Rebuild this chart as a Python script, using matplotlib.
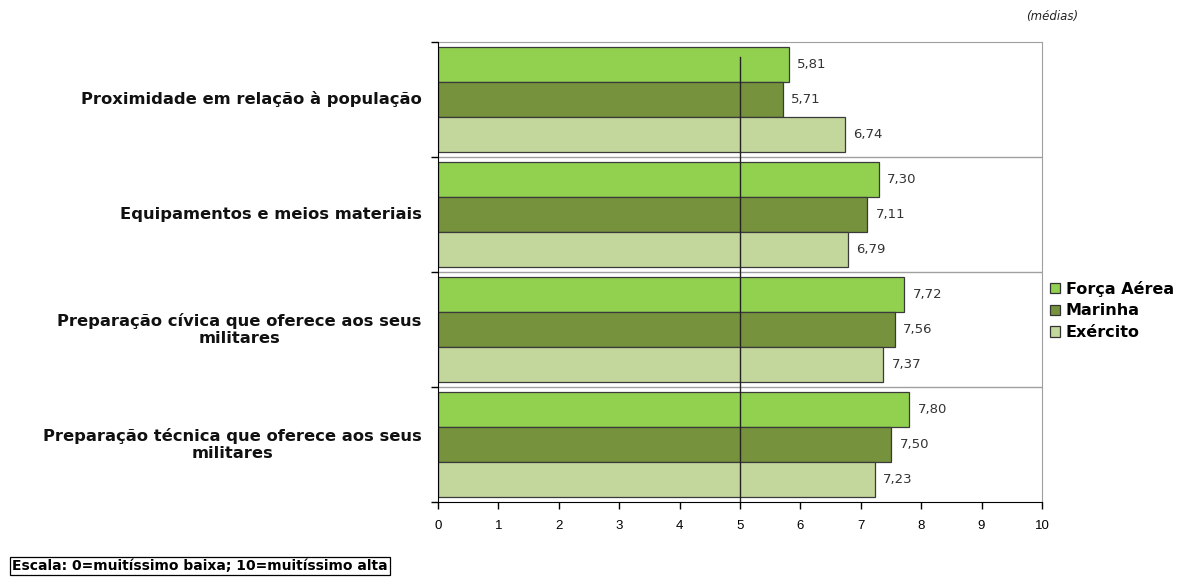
import numpy as np
import matplotlib
matplotlib.use("Agg")
import matplotlib.pyplot as plt

categories = [
    "Proximidade em relação à população",
    "Equipamentos e meios materiais",
    "Preparação cívica que oferece aos seus\nmilitares",
    "Preparação técnica que oferece aos seus\nmilitares",
]
series_names = ["Força Aérea", "Marinha", "Exército"]
forca_aerea = [5.81, 7.30, 7.72, 7.80]
marinha = [5.71, 7.11, 7.56, 7.50]
exercito = [6.74, 6.79, 7.37, 7.23]
x_ticks = list(range(0, 11))

colors = ["#92D050", "#76923C", "#C3D69B"]
wide = ["DejaVu Sans"]
narrow = ["Liberation Sans Narrow", "Liberation Sans", "DejaVu Sans"]

fig = plt.figure(figsize=(11.84, 5.79), dpi=100)
ax = fig.add_axes([0.370, 0.1330, 0.510, 0.7945])

n = len(categories)
bar_h = 0.305
values = [forca_aerea, marinha, exercito]
for i, (name, vals, col) in enumerate(zip(series_names, values, colors)):
    y = np.arange(n) + (i - 1) * bar_h
    bars = ax.barh(y, vals, height=bar_h, color=col, edgecolor="#3a3a3a",
                   linewidth=0.9, label=name, zorder=2)
    for b, v in zip(bars, vals):
        ax.text(v + 0.14, b.get_y() + b.get_height() / 2,
                f"{v:.2f}".replace(".", ","), va="center", ha="left",
                fontsize=9.5, color="#333333", family=wide)

ax.set_ylim(n - 0.5, -0.5)
ax.set_xlim(0, 10)

# linhas entre grupos
for k in range(1, n):
    ax.axhline(k - 0.5, color="#a0a0a0", linewidth=1, zorder=1)

ax.axvline(5, ymin=0, ymax=0.968, color="#222222", linewidth=1, zorder=3)

ax.set_yticks(np.arange(n + 1) - 0.5)
ax.set_yticklabels([])
ax.tick_params(axis="y", length=5, width=1, direction="out")
for k, cat in enumerate(categories):
    ax.text(-0.27, k, cat, ha="right", va="center", multialignment="center",
            fontsize=11.8, fontweight="bold", color="#111111", family=wide,
            linespacing=1.1)

ax.set_xticks(x_ticks)
ax.set_xticklabels([str(t) for t in x_ticks], family=narrow, fontsize=9.5)
ax.tick_params(axis="x", length=5, width=1, direction="out", pad=8)

ax.spines["left"].set_color("black")
ax.spines["bottom"].set_color("black")
ax.spines["top"].set_color("#a0a0a0")
ax.spines["right"].set_color("#a0a0a0")
ax.spines["left"].set_zorder(4)

leg = fig.legend(loc="upper left", bbox_to_anchor=(0.875, 0.540), frameon=False,
                 prop={"family": wide, "weight": "bold", "size": 11.5},
                 handlelength=0.6, handleheight=0.6, handletextpad=0.35, labelspacing=0.42)
for h in leg.legend_handles:
    h.set_edgecolor("#333333")

fig.text(0.8665, 0.966, "(médias)", fontsize=8.5, style="italic", color="#222222",
         family=wide)

fig.text(0.010, 0.010, "Escala: 0=muitíssimo baixa; 10=muitíssimo alta", fontsize=10,
         family=wide, fontweight="bold", color="black", ha="left", va="bottom",
         bbox=dict(boxstyle="square,pad=0.15", facecolor="white", edgecolor="black", linewidth=0.9))

fig.savefig("out.png", dpi=100)
